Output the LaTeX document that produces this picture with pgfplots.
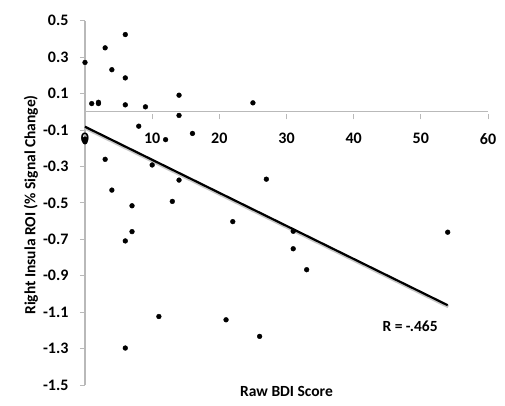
\documentclass[border=0pt]{standalone}
\usepackage{pgfplots}
\pgfplotsset{compat=1.18}
\usepackage{fontspec}
\setmainfont{Carlito}
\definecolor{axgray}{RGB}{185,185,185}
\begin{document}
\begin{tikzpicture}[x=1pt,y=1pt]
\useasboundingbox (-85,-20) rectangle (420,385);
\begin{axis}[
  at={(0,0)}, anchor=south west,
  width=403pt, height=364.3pt, scale only axis,
  xmin=0, xmax=60, ymin=-1.5, ymax=0.5,
  axis x line=middle, axis y line=left,
  x axis line style={-, draw=axgray, line width=0.9pt},
  y axis line style={-, draw=axgray, line width=1.2pt},
  xtick={0,10,20,30,40,50,60},
  xticklabels={0,10,20,30,40,50,60},
  ytick={-1.5,-1.3,-1.1,-0.9,-0.7,-0.5,-0.3,-0.1,0.1,0.3,0.5},
  yticklabels={-1.5,-1.3,-1.1,-0.9,-0.7,-0.5,-0.3,-0.1,0.1,0.3,0.5},
  hide obscured x ticks=false,
  tick style={draw=axgray, line width=0.9pt},
  x tick style={yshift=-2.5pt},
  tick align=outside,
  major tick length=5pt,
  xticklabel style={font=\fontsize{16}{19}\selectfont\bfseries, yshift=-13pt},
  yticklabel style={font=\fontsize{16}{19}\selectfont\bfseries, xshift=-8pt},
  xlabel={Raw BDI Score},
  ylabel={Right Insula ROI (\% Signal Change)},
  label style={font=\fontsize{15.5}{18}\selectfont\bfseries},
  xlabel style={at={(axis description cs:0.5,-0.019)}, anchor=center},
  ylabel style={at={(axis description cs:-0.134,0.494)}, anchor=center},
  clip=false,
]
% regression shadow
\addplot[black!22, line width=3pt, transform canvas={xshift=0.6pt,yshift=-1.6pt}] coordinates {(0,-0.082) (54,-1.062)};
% regression line
\addplot[black, line width=2.2pt] coordinates {(0,-0.082) (54,-1.062)};
% data
\addplot[only marks, mark=*, mark size=2.4pt, black] coordinates {
(0,0.271) (6,0.424) (3,0.351) (4,0.231) (6,0.186)
(1,0.045) (2,0.045) (2,0.052) (6,0.038) (9,0.027)
(14,0.091) (14,-0.020) (8,-0.079) (16,-0.119) (12,-0.153)
(0,-0.150) (0,-0.165) (3,-0.261) (10,-0.292) (14,-0.375) (4,-0.430)
(13,-0.492) (7,-0.516) (22,-0.603) (7,-0.658) (6,-0.709)
(31,-0.656) (31,-0.752) (33,-0.867) (11,-1.124) (21,-1.142)
(26,-1.233) (6,-1.297) (25,0.049) (27,-0.370) (54,-0.661)
};
\node[font=\fontsize{15.5}{18}\selectfont\bfseries] at (axis cs:48.4,-1.178) {R = -.465};
\end{axis}
\end{tikzpicture}
\end{document}
